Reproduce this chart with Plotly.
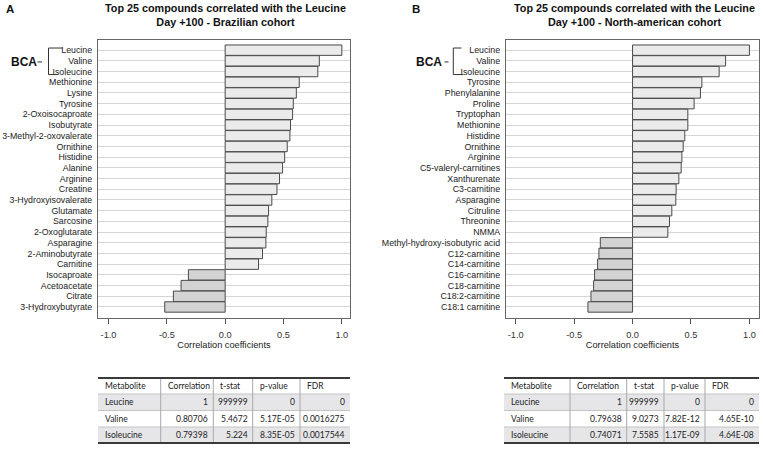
import plotly.graph_objects as go

# panel A - Brazilian cohort
names_a = ["Leucine", "Valine", "Isoleucine", "Methionine", "Lysine", "Tyrosine",
           "2-Oxoisocaproate", "Isobutyrate", "3-Methyl-2-oxovalerate", "Ornithine",
           "Histidine", "Alanine", "Arginine", "Creatine", "3-Hydroxyisovalerate",
           "Glutamate", "Sarcosine", "2-Oxoglutarate", "Asparagine", "2-Aminobutyrate",
           "Carnitine", "Isocaproate", "Acetoacetate", "Citrate", "3-Hydroxybutyrate"]
corr_a = [1.0, 0.807, 0.794, 0.635, 0.61, 0.584, 0.578, 0.56, 0.555, 0.532,
          0.51, 0.492, 0.466, 0.444, 0.40, 0.372, 0.366, 0.352, 0.349, 0.32,
          0.286, -0.315, -0.378, -0.444, -0.518]

# panel B - North-american cohort
names_b = ["Leucine", "Valine", "Isoleucine", "Tyrosine", "Phenylalanine", "Proline",
           "Tryptophan", "Methionine", "Histidine", "Ornithine", "Arginine",
           "C5-valeryl-carnitines", "Xanthurenate", "C3-carnitine", "Asparagine",
           "Citruline", "Threonine", "NMMA", "Methyl-hydroxy-isobutyric acid",
           "C12-carnitine", "C14-carnitine", "C16-carnitine", "C18-carnitine",
           "C18:2-carnitine", "C18:1 carnitine"]
corr_b = [1.0, 0.796, 0.741, 0.593, 0.581, 0.527, 0.473, 0.473, 0.447, 0.433,
          0.422, 0.416, 0.396, 0.373, 0.370, 0.336, 0.316, 0.302, -0.276,
          -0.288, -0.299, -0.325, -0.333, -0.356, -0.382]

tick_vals = [-1.0, -0.5, 0.0, 0.5, 1.0]
tick_text = ["-1.0", "-0.5", "0.0", "0.5", "1.0"]

# tables under the bar charts (column by column)
table_header = ["Metabolite", "Correlation", "t-stat", "p-value", "FDR"]
tab_a = [["Leucine", "Valine", "Isoleucine"],
         ["1", "0.80706", "0.79398"],
         ["999999", "5.4672", "5.224"],
         ["0", "5.17E-05", "8.35E-05"],
         ["0", "0.0016275", "0.0017544"]]
tab_b = [["Leucine", "Valine", "Isoleucine"],
         ["1", "0.79638", "0.74071"],
         ["999999", "9.0273", "7.5585"],
         ["0", "7.82E-12", "1.17E-09"],
         ["0", "4.65E-10", "4.64E-08"]]

W, H = 763, 450
FONT = "Liberation Sans"
TFONT = "Lato"
POS, NEG, EDGE = "#ebebeb", "#d3d3d3", "#4a4a4a"
ROW_GREY = "#e6e6e9"


def px_x(v):
    return v / W


def px_y(v):
    return 1 - v / H


fig = go.Figure()

panels = [
    (names_a, corr_a, "x", "y"),
    (names_b, corr_b, "x2", "y2"),
]
for names, corr, xa, ya in panels:
    fig.add_trace(go.Bar(
        x=corr, y=names, orientation="h", xaxis=xa, yaxis=ya,
        marker=dict(color=[POS if c >= 0 else NEG for c in corr],
                    line=dict(color=EDGE, width=1)),
        width=0.97, showlegend=False, hoverinfo="x+y"))

axis_common = dict(
    tickmode="array", tickvals=tick_vals, ticktext=tick_text, ticks="outside",
    ticklen=5, tickcolor="#555", showgrid=False, zeroline=False, showline=True,
    mirror=True, linecolor="#666", linewidth=1.2, automargin=False,
    tickfont=dict(family=FONT, size=9.2, color="#333"), ticklabelstandoff=3,
    title=dict(text="Correlation coefficients",
               font=dict(family=FONT, size=9.2, color="#222"), standoff=2),
)


def yaxis_for(names, xa):
    return dict(
        domain=[px_y(318), px_y(40)], anchor=xa, automargin=False,
        tickmode="array", tickvals=names, ticktext=names,
        autorange=False, range=[25.03, -0.95], showgrid=True, gridcolor="#d6d6d6",
        gridwidth=1, ticks="", showline=True, mirror=True, linecolor="#666",
        linewidth=1.2, tickfont=dict(family=FONT, size=8.8, color="#222"),
        ticklabelstandoff=3,
    )


fig.update_layout(
    width=W, height=H, margin=dict(l=0, r=0, t=0, b=0),
    paper_bgcolor="white", plot_bgcolor="white",
    font=dict(family=FONT, color="#222"),
    bargap=0.03,
    xaxis=dict(domain=[px_x(98), px_x(350)], range=[-1.09, 1.07], anchor="y",
               **axis_common),
    yaxis=yaxis_for(names_a, "x"),
    xaxis2=dict(domain=[px_x(506), px_x(759)], range=[-1.083, 1.082], anchor="y2",
                **axis_common),
    yaxis2=yaxis_for(names_b, "x2"),
)

# titles and panel letters
titles = [
    (225, "Top 25 compounds correlated with the Leucine<br>Day +100 - Brazilian cohort", 9.5, "A"),
    (634, "Top 25 compounds correlated with the Leucine<br>Day +100 - North-american cohort", 416.5, "B"),
]
for cx, text, lx, letter in titles:
    fig.add_annotation(x=px_x(cx), y=px_y(0), xref="paper", yref="paper",
                       xanchor="center", yanchor="top", text="<b>" + text + "</b>",
                       showarrow=False, font=dict(family=FONT, size=10.8, color="#111"))
    fig.add_annotation(x=px_x(lx), y=px_y(1), xref="paper", yref="paper",
                       xanchor="center", yanchor="top", text="<b>" + letter + "</b>",
                       showarrow=False, font=dict(family=FONT, size=11.5, color="#111"))

# BCA brackets: (axis, text centre, dash x0, dash x1, vertical x, top end, bottom end)
brackets = [("y", 24, 37.5, 42, 48.5, 62.5, 58), ("y2", 428.5, 444.5, 448.5, 453.3, 461.5, 463.3)]
for yref, tx, d0, d1, vx, top_end, bot_end in brackets:
    fig.add_annotation(x=px_x(tx), y=1.1, xref="paper", yref=yref,
                       xanchor="center", yanchor="middle",
                       text="<b>BCA</b>", showarrow=False,
                       font=dict(family=FONT, size=12, color="#111"))
    line = dict(color="#333", width=1)
    y_top, y_bot = -0.2, 2.28
    fig.add_shape(type="line", xref="paper", yref=yref, x0=px_x(vx), x1=px_x(vx),
                  y0=y_top, y1=y_bot, line=line)
    fig.add_shape(type="line", xref="paper", yref=yref, x0=px_x(vx), x1=px_x(top_end),
                  y0=y_top, y1=y_top, line=line)
    fig.add_shape(type="line", xref="paper", yref=yref, x0=px_x(vx), x1=px_x(bot_end),
                  y0=y_bot, y1=y_bot, line=line)
    fig.add_shape(type="line", xref="paper", yref=yref, x0=px_x(d0), x1=px_x(d1),
                  y0=1.1, y1=1.1, line=line)

# tables, drawn with shapes and text so the narrow columns keep their numbers
row_edges = [378, 394, 410.5, 427, 443]
tables = [
    (tab_a, [98, 160.7, 213.3, 252.7, 300, 350]),
    (tab_b, [504, 570, 626.7, 664, 705, 759]),
]
for tab, cols in tables:
    x0, x1 = cols[0], cols[-1]
    # row fills
    for r in range(3):
        if r % 2 == 0:
            fig.add_shape(type="rect", xref="paper", yref="paper", layer="below",
                          x0=px_x(x0), x1=px_x(x1),
                          y0=px_y(row_edges[r + 2]), y1=px_y(row_edges[r + 1]),
                          line=dict(width=0), fillcolor=ROW_GREY)
    # inner horizontal rules
    for yy in row_edges[1:-1]:
        fig.add_shape(type="line", xref="paper", yref="paper",
                      x0=px_x(x0), x1=px_x(x1), y0=px_y(yy), y1=px_y(yy),
                      line=dict(color="#c4c4c4", width=1))
    # vertical separators
    for xx in cols[1:-1]:
        fig.add_shape(type="line", xref="paper", yref="paper",
                      x0=px_x(xx), x1=px_x(xx), y0=px_y(row_edges[-1]), y1=px_y(row_edges[0]),
                      line=dict(color="#a8a8a8", width=1))
    # thick top and bottom rules
    for yy in (row_edges[0], row_edges[-1]):
        fig.add_shape(type="line", xref="paper", yref="paper",
                      x0=px_x(x0), x1=px_x(x1), y0=px_y(yy), y1=px_y(yy),
                      line=dict(color="#3a3a3a", width=1.8))
    tfont = dict(family=TFONT, size=8.5, color="#222")
    for c, head in enumerate(table_header):
        cy = (row_edges[0] + row_edges[1]) / 2
        fig.add_annotation(x=px_x(cols[c] + 5), y=px_y(cy), xref="paper", yref="paper",
                           xanchor="left", yanchor="middle", text=head,
                           showarrow=False, font=tfont)
        for r, val in enumerate(tab[c]):
            cy = (row_edges[r + 1] + row_edges[r + 2]) / 2
            if c == 0:
                xx, anc = cols[c] + 5, "left"
            else:
                xx, anc = cols[c + 1] - 3, "right"
            fig.add_annotation(x=px_x(xx), y=px_y(cy), xref="paper", yref="paper",
                               xanchor=anc, yanchor="middle", text=val,
                               showarrow=False, font=tfont)

fig.write_html("out.html", config={"displayModeBar": False},
               post_script="document.body.style.margin='0';")
